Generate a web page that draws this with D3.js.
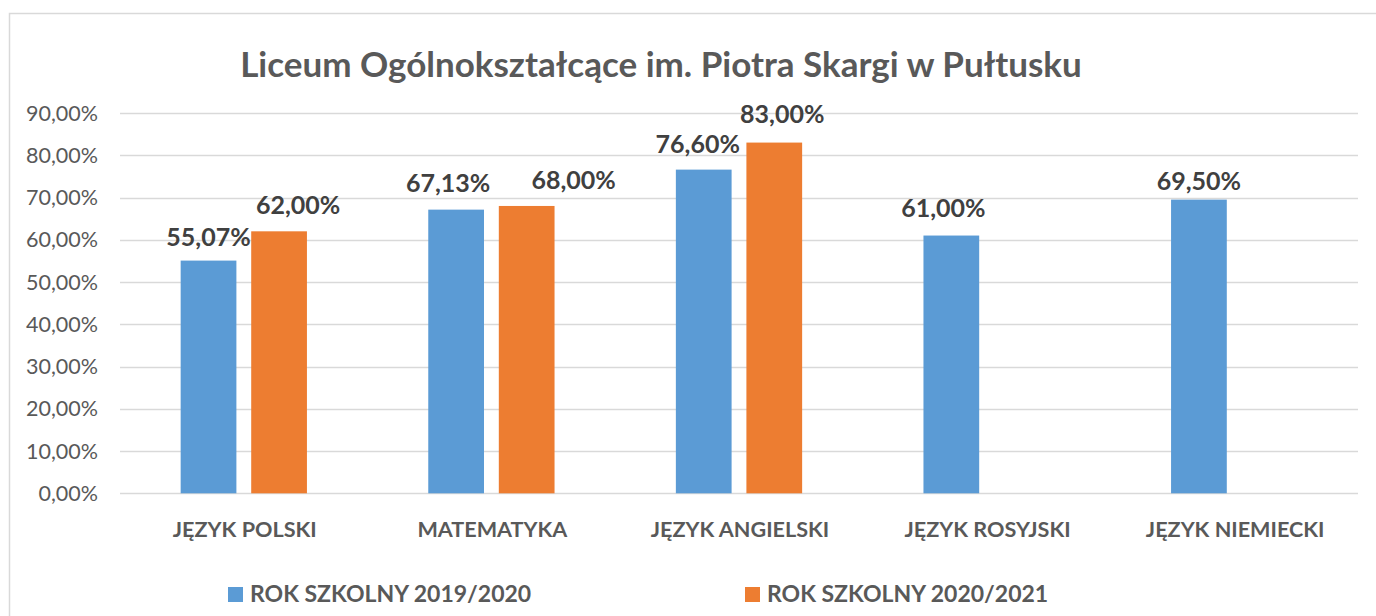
<!DOCTYPE html>
<html>
<head>
<meta charset="utf-8">
<script src="https://cdn.jsdelivr.net/npm/d3@7"></script>
<style>
  body { margin: 0; background: #fff; }
  svg text { font-family: Lato, "Open Sans", sans-serif; }
</style>
</head>
<body>
<div id="chart"></div>
<script>
// chart data
var title = "Liceum Ogólnokształcące im. Piotra Skargi w Pułtusku";
var subjects = ["JĘZYK POLSKI", "MATEMATYKA", "JĘZYK ANGIELSKI", "JĘZYK ROSYJSKI", "JĘZYK NIEMIECKI"];
var seriesNames = ["ROK SZKOLNY 2019/2020", "ROK SZKOLNY 2020/2021"];
var year2019 = [55.07, 67.13, 76.60, 61.00, 69.50];
var year2020 = [62.00, 68.00, 83.00, null, null];
var yTicks = [0, 10, 20, 30, 40, 50, 60, 70, 80, 90];

// label nudges (as placed in the original), in bar order
var labelDx = [0, 19, -8, 47, -6, 8, -8, 0];
var labelGap = [15, 17, 18, 17, 17, 20, 19, 10];

var colors = ["#5B9BD5", "#ED7D31"];

var width = 1376, height = 616;
var margin = {top: 113, right: 18, bottom: 122, left: 120};

var svg = d3.select("#chart").append("svg")
    .attr("width", width)
    .attr("height", height);

// outer frame of the chart area
svg.append("rect")
    .attr("x", 9.5)
    .attr("y", 13.5)
    .attr("width", width)
    .attr("height", height)
    .attr("fill", "#fff")
    .attr("stroke", "#D9D9D9")
    .attr("stroke-width", 1.5);

var locale = d3.formatLocale({decimal: ",", thousands: " ", grouping: [3], currency: ["", " zł"]});
var pct = function(v) { return locale.format(".2f")(v) + "%"; };

var x0 = d3.scaleBand()
    .domain(subjects)
    .range([margin.left, width - margin.right])
    .paddingInner(0.49)
    .paddingOuter(0.245);

var x1 = d3.scaleBand()
    .domain([0, 1])
    .range([0, x0.bandwidth()])
    .paddingInner(0.21);

var y = d3.scaleLinear()
    .domain([0, 90])
    .range([height - margin.bottom - 0.7, margin.top]);

// gridlines
svg.append("g")
    .selectAll("line")
    .data(yTicks)
    .enter()
    .append("line")
    .attr("x1", margin.left)
    .attr("x2", width - margin.right)
    .attr("y1", function(d) { return Math.round(y(d)) + 0.5; })
    .attr("y2", function(d) { return Math.round(y(d)) + 0.5; })
    .attr("stroke", "#D9D9D9")
    .attr("stroke-width", 1.5);

// y axis labels
svg.append("g")
    .selectAll("text")
    .data(yTicks)
    .enter()
    .append("text")
    .attr("x", 98)
    .attr("y", function(d) { return y(d) + 7.5; })
    .attr("text-anchor", "end")
    .attr("fill", "#595959")
    .style("font-size", "21.5px")
    .text(pct);

// bars
var rows = [];
subjects.forEach(function(s, i) {
    rows.push({subject: s, series: 0, value: year2019[i]});
    if (year2020[i] != null) {
        rows.push({subject: s, series: 1, value: year2020[i]});
    }
});

svg.append("g")
    .selectAll("rect")
    .data(rows)
    .enter()
    .append("rect")
    .attr("x", function(d) { return x0(d.subject) + x1(d.series); })
    .attr("y", function(d) { return y(d.value); })
    .attr("width", x1.bandwidth())
    .attr("height", function(d) { return y(0) - y(d.value); })
    .attr("fill", function(d) { return colors[d.series]; });

// data labels
svg.append("g")
    .selectAll("text")
    .data(rows)
    .enter()
    .append("text")
    .attr("x", function(d, i) { return x0(d.subject) + x1(d.series) + x1.bandwidth() / 2 + labelDx[i]; })
    .attr("y", function(d, i) { return y(d.value) - labelGap[i]; })
    .attr("text-anchor", "middle")
    .attr("fill", "#404040")
    .style("font-size", "25px")
    .style("font-weight", "bold")
    .text(function(d) { return pct(d.value); });

// category labels
svg.append("g")
    .selectAll("text")
    .data(subjects)
    .enter()
    .append("text")
    .attr("x", function(d) { return x0(d) + x0.bandwidth() / 2 + 1; })
    .attr("y", 537)
    .attr("text-anchor", "middle")
    .attr("fill", "#595959")
    .style("font-size", "21.6px")
    .style("font-weight", "bold")
    .text(function(d) { return d; });

// title
svg.append("text")
    .attr("x", 661)
    .attr("y", 77)
    .attr("text-anchor", "middle")
    .attr("fill", "#595959")
    .style("font-size", "35px")
    .style("font-weight", "bold")
    .text(title);

// legend
var legendX = [228, 745];
var legend = svg.append("g")
    .selectAll("g")
    .data(seriesNames)
    .enter()
    .append("g")
    .attr("transform", function(d, i) { return "translate(" + legendX[i] + ",587)"; });

legend.append("rect")
    .attr("width", 15)
    .attr("height", 15)
    .attr("fill", function(d, i) { return colors[i]; });

legend.append("text")
    .attr("x", 22)
    .attr("y", 15)
    .attr("fill", "#595959")
    .style("font-size", "23px")
    .style("font-weight", "bold")
    .text(function(d) { return d; });
</script>
</body>
</html>
